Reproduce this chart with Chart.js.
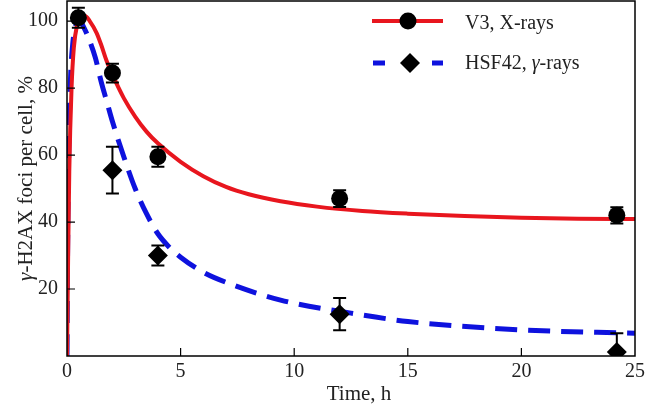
<!doctype html>
<html lang="en">
<head>
  <meta charset="utf-8">
  <style>
    * { margin: 0; padding: 0; }
    body { background: #fff; }
  </style>
</head>
<body>
<canvas id="myChart" width="646" height="410"></canvas>
<script src="https://cdn.jsdelivr.net/npm/chart.js"></script>
<script>
  // measured points (mean +- error)
  const v3Time = [0.5, 2, 4, 12, 24.2]
  const v3Mean = [101, 84.5, 59.5, 47, 42]
  const v3Err = [3, 2.8, 3, 2.5, 2.4]

  const hsfTime = [2, 4, 12, 24.2]
  const hsfMean = [55.5, 30, 12.5, 1.2]
  const hsfErr = [7, 3, 4.8, 5.6]

  // fitted curves
  const fitV3Time = [0, 0.05, 0.1, 0.2, 0.3, 0.45, 0.6, 0.8, 1.0, 1.3, 1.5, 1.75, 2.0, 2.5, 3, 3.5, 4, 5, 6, 7, 8, 9.4, 11, 13, 15, 17.5, 20, 22.5, 25]
  const fitV3 = [0, 30, 55, 80, 92, 99, 101.5, 101.5, 100, 96.5, 93, 88, 84, 77, 71.5, 67, 63.5, 58, 53.7, 50.5, 48.3, 46.2, 44.6, 43.3, 42.5, 41.8, 41.3, 41, 40.9]

  const fitHsfTime = [0, 0.03, 0.08, 0.15, 0.25, 0.4, 0.55, 0.75, 1.0, 1.25, 1.5, 1.75, 2.0, 2.5, 3, 3.5, 4, 4.5, 5, 6, 7.2, 9.4, 12.5, 15, 20, 25]
  const fitHsf = [0, 35, 62, 82, 93, 99, 100, 98, 94, 89, 82, 76, 70, 59.5, 50, 42.5, 36.5, 32.5, 29.5, 25, 21.5, 16.7, 12.8, 10.3, 7.8, 6.8]

  const xTicks = [0, 5, 10, 15, 20, 25]
  const yTicks = [20, 40, 60, 80, 100]

  const RED = 'rgb(232, 22, 30)'
  const BLUE = 'rgb(14, 18, 222)'
  const FONT = "'Liberation Serif', 'Times New Roman', serif"
  const TEXT = '#222'

  const pairs = (xs, ys) => xs.map((v, i) => ({ x: v, y: ys[i] }))

  const extras = {
    id: 'extras',
    afterDatasetsDraw(chart) {
      const { ctx, chartArea: a, scales: { x, y } } = chart
      ctx.save()
      ctx.beginPath()
      ctx.rect(a.left, a.top, a.width, a.height)
      ctx.clip()
      ctx.strokeStyle = '#000'
      ctx.lineWidth = 2
      const groups = [[v3Time, v3Mean, v3Err], [hsfTime, hsfMean, hsfErr]]
      groups.forEach(([t, m, e]) => {
        t.forEach((tt, i) => {
          const px = x.getPixelForValue(tt)
          const top = y.getPixelForValue(m[i] + e[i])
          const bot = y.getPixelForValue(m[i] - e[i])
          ctx.beginPath()
          ctx.moveTo(px, top); ctx.lineTo(px, bot)
          ctx.moveTo(px - 6.5, top); ctx.lineTo(px + 6.5, top)
          ctx.moveTo(px - 6.5, bot); ctx.lineTo(px + 6.5, bot)
          ctx.stroke()
        })
      })
      ctx.restore()
    },
    afterDraw(chart) {
      const { ctx, chartArea: a, scales: { x, y } } = chart
      ctx.save()
      // frame
      ctx.strokeStyle = '#000'
      ctx.lineWidth = 1.5
      ctx.strokeRect(a.left, a.top, a.width, a.height)
      // inward ticks
      ctx.lineWidth = 1.2
      ctx.beginPath()
      xTicks.forEach(v => {
        if (v <= x.min || v >= x.max) return
        const px = x.getPixelForValue(v)
        ctx.moveTo(px, a.bottom); ctx.lineTo(px, a.bottom - 8)
      })
      yTicks.forEach(v => {
        const py = y.getPixelForValue(v)
        ctx.moveTo(a.left, py); ctx.lineTo(a.left + 8, py)
      })
      ctx.stroke()

      // axis titles
      ctx.fillStyle = TEXT
      ctx.textBaseline = 'middle'
      ctx.font = '21px ' + FONT
      ctx.textAlign = 'center'
      ctx.fillText('Time, h', (a.left + a.right) / 2 + 8, 394)

      ctx.save()
      ctx.translate(26, (a.top + a.bottom) / 2)
      ctx.rotate(-Math.PI / 2)
      ctx.textAlign = 'left'
      const g = 'γ', rest = '-H2AX foci per cell, %'
      ctx.font = 'italic 21px ' + FONT
      const gw = ctx.measureText(g).width
      ctx.font = '21px ' + FONT
      const rw = ctx.measureText(rest).width
      let sx = -(gw + rw) / 2
      ctx.font = 'italic 21px ' + FONT
      ctx.fillText(g, sx, 0)
      ctx.font = '21px ' + FONT
      ctx.fillText(rest, sx + gw, 0)
      ctx.restore()

      // legend
      ctx.textAlign = 'left'
      ctx.font = '20px ' + FONT
      ctx.strokeStyle = RED
      ctx.lineWidth = 4
      ctx.beginPath(); ctx.moveTo(372, 21); ctx.lineTo(443, 21); ctx.stroke()
      ctx.fillStyle = '#000'
      ctx.beginPath(); ctx.arc(408, 21, 8.5, 0, Math.PI * 2); ctx.fill()
      ctx.fillStyle = TEXT
      ctx.fillText(chart.data.datasets[0].label, 465, 24)

      ctx.strokeStyle = BLUE
      ctx.lineWidth = 5
      ctx.beginPath()
      ctx.moveTo(373, 63); ctx.lineTo(385, 63)
      ctx.moveTo(432, 63); ctx.lineTo(443, 63)
      ctx.stroke()
      ctx.fillStyle = '#000'
      ctx.beginPath()
      ctx.moveTo(410, 53); ctx.lineTo(420, 63); ctx.lineTo(410, 73); ctx.lineTo(400, 63)
      ctx.closePath(); ctx.fill()
      ctx.fillStyle = TEXT
      let lx = 465
      ctx.fillText('HSF42, ', lx, 64); lx += ctx.measureText('HSF42, ').width
      ctx.font = 'italic 20px ' + FONT
      ctx.fillText('γ', lx, 64); lx += ctx.measureText('γ').width
      ctx.font = '20px ' + FONT
      ctx.fillText('-rays', lx, 64)
      ctx.restore()
    }
  }

  Chart.defaults.font.family = FONT
  Chart.defaults.font.size = 20
  Chart.defaults.color = TEXT

  const data = {
    datasets: [{
      label: 'V3, X-rays',
      type: 'scatter',
      data: pairs(v3Time, v3Mean),
      pointStyle: 'circle',
      pointRadius: 8.5,
      backgroundColor: '#000',
      borderColor: '#000',
      borderWidth: 0,
      order: 1
    }, {
      label: 'HSF42, γ-rays',
      type: 'scatter',
      data: pairs(hsfTime, hsfMean),
      pointStyle: 'rectRot',
      pointRadius: 10,
      backgroundColor: '#000',
      borderColor: '#000',
      borderWidth: 0,
      clip: 0,
      order: 1
    }, {
      label: 'V3 fit',
      type: 'line',
      data: pairs(fitV3Time, fitV3),
      borderColor: RED,
      borderWidth: 4,
      pointRadius: 0,
      cubicInterpolationMode: 'monotone',
      fill: false,
      order: 2
    }, {
      label: 'HSF42 fit',
      type: 'line',
      data: pairs(fitHsfTime, fitHsf),
      borderColor: BLUE,
      borderWidth: 5,
      borderDash: [22, 11],
      pointRadius: 0,
      cubicInterpolationMode: 'monotone',
      fill: false,
      order: 3
    }]
  }

  const config = {
    type: 'scatter',
    data,
    options: {
      responsive: false,
      animation: false,
      layout: { autoPadding: false, padding: { top: 1, right: 11, left: 0, bottom: 0 } },
      plugins: { legend: { display: false }, tooltip: { enabled: false } },
      scales: {
        x: {
          type: 'linear',
          min: 0, max: 25,
          afterFit: s => { s.height = 54; s.paddingLeft = 0; s.paddingRight = 0 },
          afterBuildTicks: s => { s.ticks = xTicks.map(v => ({ value: v })) },
          grid: { display: false, drawTicks: false },
          border: { display: false },
          ticks: { padding: 4, maxRotation: 0, font: { size: 20 } }
        },
        y: {
          min: 0, max: 106,
          afterFit: s => { s.width = 67; s.paddingTop = 0; s.paddingBottom = 0 },
          afterBuildTicks: s => { s.ticks = yTicks.map(v => ({ value: v })) },
          grid: { display: false, drawTicks: false },
          border: { display: false },
          ticks: { padding: 9, font: { size: 20 } }
        }
      }
    },
    plugins: [extras]
  }

  const myChart = new Chart(document.getElementById('myChart'), config)
</script>
</body>
</html>
